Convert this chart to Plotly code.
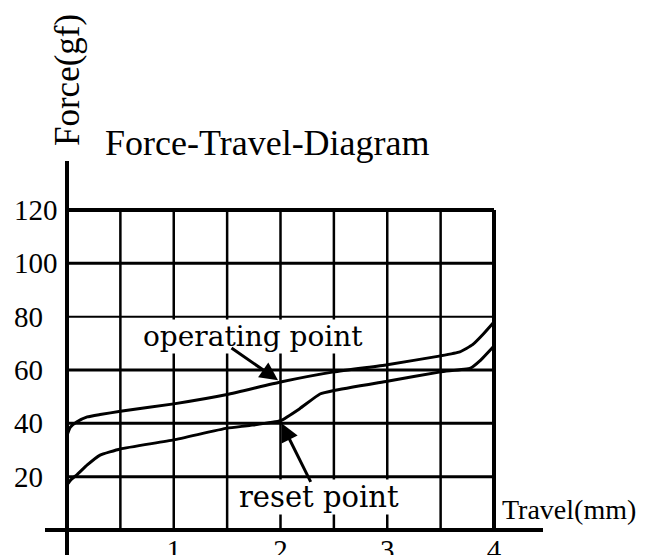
import plotly.graph_objects as go

# ---- data ----
op_x = [0, 0.03, 0.09, 0.19, 0.31, 0.5, 1.0, 1.5, 2.0, 2.5, 3.0, 3.5, 3.68, 3.8, 3.9, 4.0]
op_y = [35.5, 38.5, 40.5, 42.4, 43.3, 44.5, 47.3, 50.8, 55.5, 59.3, 62.0, 65.3, 66.8, 69.5, 73.5, 78.0]

rs_x = [0, 0.04, 0.09, 0.19, 0.31, 0.5, 1.0, 1.5, 1.71, 2.0, 2.18, 2.37, 2.5, 3.0, 3.5, 3.78, 3.87, 4.0]
rs_y = [17.0, 19.0, 20.6, 24.4, 28.1, 30.4, 33.8, 38.2, 39.2, 41.0, 45.5, 51.0, 52.3, 55.8, 59.3, 60.7, 63.5, 69.0]

grid_x = [0.5, 1.0, 1.5, 2.0, 2.5, 3.0, 3.5, 4.0]
grid_y = [20, 40, 60, 80, 100, 120]
x_tick_vals = [1, 2, 3, 4]
x_tick_text = ["1", "2", "3", "4"]
y_tick_vals = [20, 40, 60, 80, 100, 120]
y_tick_text = ["20", "40", "60", "80", "100", "120"]

op_label = "operating point"
op_tip = (1.977, 56.2)
op_tail = (1.527, 68.6)
rs_label = "reset point"
rs_tip = (2.01, 40.0)
rs_tail = (2.29, 17.5)

SERIF = "Liberation Serif, Times New Roman, serif"
LBL = "DejaVu Serif, serif"

# page has an 8px body margin: plot area spans reference px x 45..543, y 161..530
L, T = 37, 153
PW, PH = 498, 369

fig = go.Figure()
for xs, ys in [(op_x, op_y), (rs_x, rs_y)]:
    fig.add_trace(go.Scatter(x=xs, y=ys, mode="lines",
                             line=dict(color="black", width=3, shape="spline", smoothing=0.4),
                             showlegend=False, hoverinfo="skip"))

shapes = []
for gx in grid_x:
    shapes.append(dict(type="line", xref="x", yref="y", x0=gx, x1=gx, y0=0, y1=120,
                       line=dict(color="black", width=4 if gx == 4.0 else 2.5), layer="below"))
for gy in grid_y:
    shapes.append(dict(type="line", xref="x", yref="y", x0=0, x1=4, y0=gy, y1=gy,
                       line=dict(color="black", width=4 if gy == 120 else (2 if gy == 80 else 3)), layer="below"))
# axis lines
X0 = 22 / PW
shapes.append(dict(type="line", xref="paper", yref="paper", x0=0, x1=1, y0=0, y1=0,
                   line=dict(color="black", width=4)))
shapes.append(dict(type="line", xref="paper", yref="paper", x0=X0, x1=X0, y0=-27 / PH, y1=1,
                   line=dict(color="black", width=4)))


def px_x(p):
    return (p - 45) / PW


def px_y(p):
    return (530 - p) / PH


ann = []
for v, t in zip(y_tick_vals, y_tick_text):
    ann.append(dict(x=px_x(12), xref="paper", y=v, yref="y", text=t, showarrow=False,
                    xanchor="left", yanchor="middle", font=dict(family=SERIF, size=29, color="black")))
ann.append(dict(x=px_x(103), xref="paper", y=px_y(143), yref="paper",
                text="Force-Travel-Diagram", showarrow=False, xanchor="left", yanchor="middle",
                font=dict(family=SERIF, size=36, color="black")))
ann.append(dict(x=X0, xref="paper", y=px_y(80), yref="paper", text="Force(gf)",
                showarrow=False, textangle=-90, xanchor="center", yanchor="middle",
                font=dict(family=SERIF, size=35, color="black")))
ann.append(dict(x=px_x(500), xref="paper", y=px_y(509), yref="paper", text="Travel(mm)",
                showarrow=False, xanchor="left", yanchor="middle",
                font=dict(family=SERIF, size=28, color="black")))
ann.append(dict(x=1.742, y=72.7, xref="x", yref="y", text=op_label, showarrow=False,
                bgcolor="white", borderpad=0, font=dict(family=LBL, size=28, color="black")))
ann.append(dict(x=2.365, y=12.4, xref="x", yref="y", text=rs_label, showarrow=False,
                bgcolor="white", borderpad=0, font=dict(family=LBL, size=29, color="black")))
for tip, tail in [(op_tip, op_tail), (rs_tip, rs_tail)]:
    ann.append(dict(x=tip[0], y=tip[1], xref="x", yref="y", ax=tail[0], ay=tail[1],
                    axref="x", ayref="y", text="", showarrow=True, arrowhead=2,
                    arrowsize=1.2, arrowwidth=3, arrowcolor="black"))

fig.update_layout(
    width=646, height=555,
    margin=dict(l=L, r=646 - L - PW, t=T, b=555 - T - PH, autoexpand=False),
    paper_bgcolor="white", plot_bgcolor="white",
    xaxis=dict(range=[-22 / 106.75, 476 / 106.75], showgrid=False, zeroline=False, showline=False,
               tickvals=x_tick_vals, ticktext=x_tick_text, ticks="", automargin=False,
               tickfont=dict(family=SERIF, size=29, color="black")),
    yaxis=dict(range=[0, 120 * PH / 320], showgrid=False, zeroline=False, showline=False,
               showticklabels=False, automargin=False),
    shapes=shapes, annotations=ann,
)
fig.write_html("out.html")
